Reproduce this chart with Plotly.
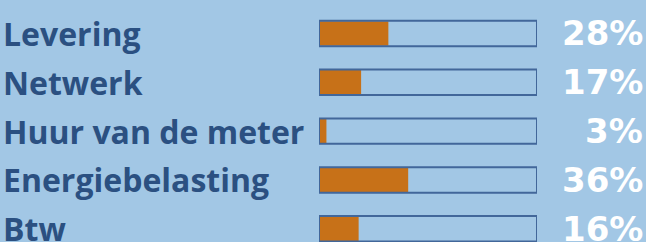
import plotly.graph_objects as go

categories = ["Levering", "Netwerk", "Huur van de meter", "Energiebelasting", "Btw"]
percentages = [28, 17, 3, 36, 16]
scale_max = 88

BG = "#a2c7e5"
LABEL = "#2b5081"
FILL = "#c77118"
FRAME = "#42679a"

W, H = 646, 242

fig = go.Figure()
fig.add_trace(go.Bar(
    y=categories, x=percentages, orientation="h",
    marker=dict(color=FILL, line=dict(width=0)),
    width=0.5, hoverinfo="skip",
))
fig.add_trace(go.Bar(
    y=categories, x=[scale_max] * len(categories), orientation="h",
    marker=dict(color="rgba(0,0,0,0)", line=dict(color=FRAME, width=2)),
    width=0.52, hoverinfo="skip",
))

annotations = []
for c, p in zip(categories, percentages):
    annotations.append(dict(
        xref="paper", yref="y", x=1 / W, y=c, xanchor="left", yanchor="middle",
        text=c, showarrow=False,
        font=dict(family="Open Sans", size=32, color=LABEL, weight="bold"),
    ))
    annotations.append(dict(
        xref="paper", yref="y", x=645 / W, y=c, xanchor="right", yanchor="middle",
        text=f"{p}%", showarrow=False,
        font=dict(family="DejaVu Sans", size=34, color="white", weight="bold"),
    ))

fig.update_layout(
    width=W, height=H,
    margin=dict(l=0, r=0, t=0, b=0),
    paper_bgcolor=BG, plot_bgcolor=BG,
    barmode="overlay", showlegend=False,
    xaxis=dict(domain=[319 / W, 537 / W], range=[0, scale_max], visible=False, fixedrange=True),
    yaxis=dict(range=[4.27, -0.685], visible=False, fixedrange=True,
               categoryorder="array", categoryarray=categories),
    annotations=annotations,
)

fig.write_html("out.html", config={"displayModeBar": False},
               post_script="document.body.style.margin='0';document.body.style.overflow='hidden';")
